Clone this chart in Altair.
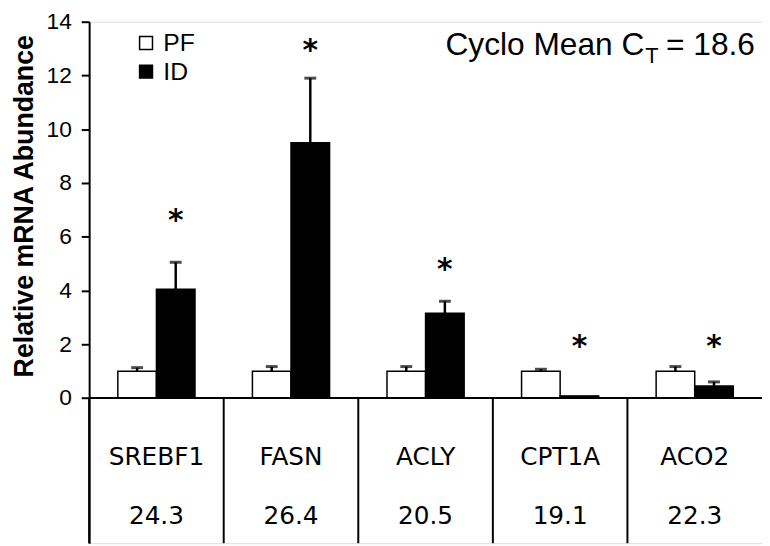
import altair as alt
import pandas as pd

genes = ["SREBF1", "FASN", "ACLY", "CPT1A", "ACO2"]
ct_values = ["24.3", "26.4", "20.5", "19.1", "22.3"]
groups = ["PF", "ID"]
pf_mean = [1.0, 1.0, 1.0, 1.0, 1.0]
pf_sem = [0.13, 0.17, 0.17, 0.07, 0.17]
id_mean = [4.05, 9.5, 3.15, 0.08, 0.45]
id_sem = [1.0, 2.4, 0.45, 0.0, 0.15]
star_y = [6.6, 12.9, 4.75, 1.9, 1.9]
y_ticks = [0, 2, 4, 6, 8, 10, 12, 14]
gene_row_y = -2.2
ct_row_y = -4.4
y_min = -5.4

rows = []
for g, m, s in zip(genes, pf_mean, pf_sem):
    rows.append({"gene": g, "group": "PF", "mean": m, "top": m + s, "sem": s})
for g, m, s in zip(genes, id_mean, id_sem):
    rows.append({"gene": g, "group": "ID", "mean": m, "top": m + s, "sem": s})
bars = pd.DataFrame(rows)
err = bars[bars["sem"] > 0]
stars = pd.DataFrame({"gene": genes, "group": ["ID"] * 5, "y": star_y})
table = pd.DataFrame({"gene": genes, "ct": ct_values})
note = table[table["gene"] == genes[0]]

FONT = "DejaVu Sans"
ARIAL = "Liberation Sans"
xscale = alt.Scale(domain=genes, paddingInner=0, paddingOuter=0)
yscale = alt.Scale(domain=[y_min, 14], nice=False, zero=False)
offscale = alt.Scale(domain=groups, paddingInner=0, paddingOuter=0.744)

X = alt.X("gene:N", scale=xscale, axis=None)
XO = alt.XOffset("group:N", scale=offscale)

bar_layer = alt.Chart(bars).mark_bar(stroke="black", strokeWidth=1.5).encode(
    x=X,
    xOffset=XO,
    y=alt.Y(
        "mean:Q",
        scale=yscale,
        axis=alt.Axis(
            values=y_ticks,
            title="Relative mRNA Abundance",
            titleFont=ARIAL,
            titleFontSize=27,
            titleFontWeight="bold",
            titleColor="black",
            titleX=-65,
            titleY=186,
            titleAngle=270,
            titleAlign="center",
            titleBaseline="middle",
            labelFont=ARIAL,
            labelFontSize=23,
            labelColor="black",
            labelPadding=10,
            tickSize=8,
            tickWidth=2,
            tickColor="black",
            domainColor="black",
            domainWidth=2,
            grid=False,
        ),
    ),
    y2=alt.datum(0),
    fill=alt.Fill(
        "group:N",
        scale=alt.Scale(domain=groups, range=["white", "black"]),
        legend=alt.Legend(
            title=None,
            orient="none",
            legendX=45,
            legendY=9,
            padding=0,
            symbolType="square",
            symbolSize=170,
            symbolStrokeColor="black",
            symbolStrokeWidth=1.5,
            labelFont=ARIAL,
            labelFontSize=25,
            labelColor="black",
            labelOffset=5,
            rowPadding=3,
        ),
    ),
)

err_rule = alt.Chart(err).mark_rule(color="black", strokeWidth=2.5).encode(
    x=X, xOffset=XO, y=alt.Y("mean:Q", scale=yscale), y2="top:Q"
)
err_cap = alt.Chart(err).mark_tick(color="black", size=12, thickness=3).encode(
    x=X, xOffset=XO, y=alt.Y("top:Q", scale=yscale)
)
star_layer = alt.Chart(stars).mark_text(
    text="*", font=FONT, fontSize=30, color="black", baseline="middle",
    fontWeight="bold"
).encode(x=X, xOffset=XO, y=alt.Y("y:Q", scale=yscale))

base_rule = alt.Chart(table).mark_rule(color="black", strokeWidth=2).encode(
    y=alt.datum(0)
)
dividers = alt.Chart(table).mark_rule(color="black", strokeWidth=2).encode(
    x=alt.X("gene:N", scale=xscale, axis=None, bandPosition=0),
    y=alt.datum(0),
    y2=alt.datum(y_min),
)
gene_text = alt.Chart(table).mark_text(
    font=FONT, fontSize=25, color="black", baseline="middle"
).encode(x=X, y=alt.datum(gene_row_y), text="gene:N")
ct_text = alt.Chart(table).mark_text(
    font=FONT, fontSize=25, color="black", baseline="middle"
).encode(x=X, y=alt.datum(ct_row_y), text="ct:N")

note1 = alt.Chart(note).mark_text(
    text="Cyclo Mean C", font=ARIAL, fontSize=32, color="black",
    align="right", baseline="alphabetic"
).encode(x=alt.value(561), y=alt.value(34))
note2 = alt.Chart(note).mark_text(
    text="T", font=ARIAL, fontSize=22, color="black",
    align="left", baseline="alphabetic"
).encode(x=alt.value(562), y=alt.value(42))
note3 = alt.Chart(note).mark_text(
    text="= 18.6", font=ARIAL, fontSize=32, color="black",
    align="left", baseline="alphabetic"
).encode(x=alt.value(583), y=alt.value(34))

chart = alt.layer(
    bar_layer, err_rule, err_cap, star_layer, base_rule, dividers,
    gene_text, ct_text, note1, note2, note3,
).properties(
    width=680,
    height=527,
    autosize=alt.AutoSizeParams(type="none"),
    padding={"left": 82, "top": 11, "right": 0, "bottom": 0},
).configure_view(stroke=None).configure(background="white")

chart.save("out.html", embed_options={"renderer": "svg", "actions": False})
